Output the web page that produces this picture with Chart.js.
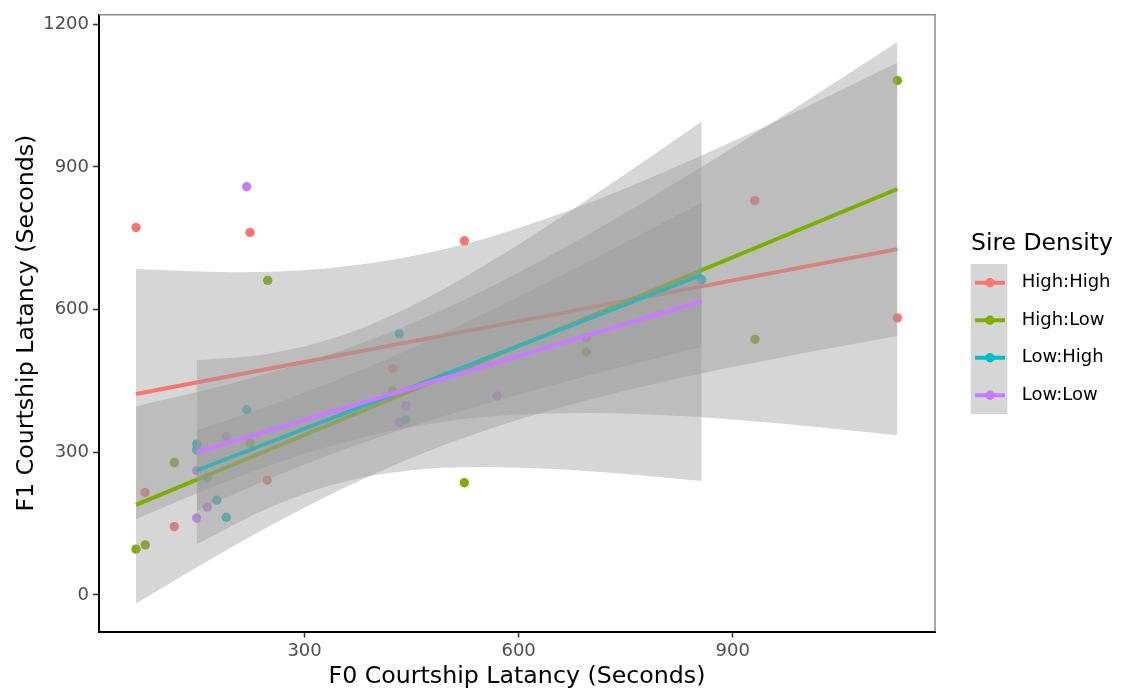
<!DOCTYPE html>
<html><head><meta charset="utf-8">
<script src="https://cdn.jsdelivr.net/npm/chart.js@4/dist/chart.umd.min.js"></script>
<style>html,body{margin:0;padding:0;background:#fff;} #wrap{width:1125px;height:691px;}</style>
</head><body><div id="wrap"><canvas id="c" width="1125" height="691"></canvas></div>
<script>
const groups = ['High:High', 'High:Low', 'Low:High', 'Low:Low'];
const colors = ['#F8766D', '#7CAE00', '#00BFC4', '#C77CFF'];
const xTicks = [300, 600, 900];
const yTicks = [0, 300, 600, 900, 1200];
const xMin = 11.9, xMax = 1183.6, yMin = -76.8, yMax = 1219.8;

// observed points
const hhX = [63.8, 223.6, 76.4, 117.4, 247.6, 423.5, 524.0, 695.4, 931.0, 1130.8];
const hhY = [772.5, 762.0, 215.6, 143.7, 241.4, 475.8, 744.6, 540.7, 829.0, 582.6];
const hlX = [63.8, 76.8, 117.4, 223.5, 248.3, 423.5, 523.9, 694.5, 931.3, 1130.8];
const hlY = [96.3, 105.3, 278.4, 319.6, 661.5, 429.0, 235.9, 510.8, 537.4, 1081.7];
const lhX = [148.8, 148.8, 163.7, 176.9, 190.3, 219.0, 432.8, 441.8, 856.6];
const lhY = [317.2, 304.6, 246.4, 199.5, 163.3, 389.4, 549.0, 368.4, 663.0];
const llX = [148.8, 148.8, 163.7, 190.9, 218.9, 432.8, 441.8, 569.7];
const llY = [261.7, 161.8, 184.8, 333.5, 858.3, 362.8, 397.7, 418.7];

// fitted lines (end points)
const hhFitX = [63.8, 1130.8], hhFitY = [422.4, 727.2];
const hlFitX = [63.8, 1130.8], hlFitY = [189.4, 853.6];
const lhFitX = [148.8, 856.6], lhFitY = [261.7, 673.0];
const llFitX = [148.8, 856.6], llFitY = [300.0, 617.5];

// confidence bands
const hhRibX = [63.8, 200, 330, 443, 560, 700, 850, 1000, 1130.8];
const hhLow  = [159.7, 243.9, 310.3, 351.5, 375.4, 382.8, 374.1, 355.8, 335.7];
const hhHigh = [685.1, 678.7, 686.5, 709.9, 752.8, 825.4, 919.9, 1023.8, 1118.9];
const hlRibX = [63.8, 200, 330, 443, 560, 700, 850, 1000, 1130.8];
const hlLow  = [-17.9, 102.5, 206.6, 284.0, 349.4, 410.8, 463.3, 508.6, 544.7];
const hlHigh = [396.7, 445.7, 503.4, 566.8, 647.0, 760.0, 894.1, 1035.6, 1162.7];
const lhRibX = [148.8, 250, 350, 450, 550, 650, 750, 856.6];
const lhLow  = [177.0, 243.7, 302.5, 354.1, 399.9, 441.8, 481.4, 521.5];
const lhHigh = [346.4, 397.3, 454.9, 519.5, 590.1, 664.4, 741.2, 824.5];
const llRibX = [148.8, 250, 350, 450, 550, 650, 750, 856.6];
const llLow  = [106.5, 183.5, 236.2, 262.4, 269.1, 264.6, 254.2, 239.5];
const llHigh = [493.5, 507.3, 544.4, 607.8, 690.9, 785.0, 885.2, 995.5];

const pts = (xs, ys) => xs.map((x, i) => ({x: x, y: ys[i]}));
const groupData = [
  {x: hhX, y: hhY, fx: hhFitX, fy: hhFitY, rx: hhRibX, lo: hhLow, hi: hhHigh},
  {x: hlX, y: hlY, fx: hlFitX, fy: hlFitY, rx: hlRibX, lo: hlLow, hi: hlHigh},
  {x: lhX, y: lhY, fx: lhFitX, fy: lhFitY, rx: lhRibX, lo: lhLow, hi: lhHigh},
  {x: llX, y: llY, fx: llFitX, fy: llFitY, rx: llRibX, lo: llLow, hi: llHigh}
];
const BAND = 'rgba(153,153,153,0.4)';
const datasets = [];
groupData.forEach((g, i) => {
  datasets.push({label: groups[i], data: pts(g.x, g.y), showLine: false, pointRadius: 4.7,
    pointBackgroundColor: colors[i], pointBorderWidth: 0, borderColor: 'rgba(0,0,0,0)', borderWidth: 0, order: 100});
});
groupData.forEach((g, i) => {
  const base = 50 - i * 10;
  datasets.push({label: groups[i] + ' band', data: pts(g.rx, g.hi), fill: '+1', backgroundColor: BAND,
    borderColor: 'rgba(0,0,0,0)', borderWidth: 0, pointRadius: 0, cubicInterpolationMode: 'monotone', order: base});
  datasets.push({label: groups[i] + ' band low', data: pts(g.rx, g.lo), fill: false,
    borderColor: 'rgba(0,0,0,0)', borderWidth: 0, pointRadius: 0, cubicInterpolationMode: 'monotone', order: base});
  datasets.push({label: groups[i] + ' fit', data: pts(g.fx, g.fy), fill: false, borderColor: colors[i],
    borderWidth: 4, borderCapStyle: 'butt', pointRadius: 0, order: base - 1});
});

const FONT = 'DejaVu Sans';
Chart.defaults.font.family = FONT;

const extras = {
  id: 'extras',
  afterDraw(chart) {
    const ctx = chart.ctx, a = chart.chartArea;
    ctx.save();
    ctx.strokeStyle = '#8c8c8c';
    ctx.lineWidth = 1.5;
    ctx.beginPath();
    ctx.moveTo(a.left, a.top); ctx.lineTo(a.right, a.top); ctx.lineTo(a.right, a.bottom);
    ctx.stroke();
    // legend
    ctx.fillStyle = '#000';
    ctx.font = '23.5px "' + FONT + '"';
    ctx.textBaseline = 'alphabetic';
    ctx.textAlign = 'left';
    ctx.fillText('Sire Density', 971, 250);
    const top = 264, kh = 37.5;
    ctx.fillStyle = '#D6D6D6';
    ctx.fillRect(970.7, top, 36.6, kh * groups.length);
    groups.forEach((gname, i) => {
      const cy = top + kh / 2 + i * kh;
      ctx.strokeStyle = colors[i];
      ctx.lineWidth = 4;
      ctx.beginPath(); ctx.moveTo(975, cy); ctx.lineTo(1005, cy); ctx.stroke();
      ctx.fillStyle = colors[i];
      ctx.beginPath(); ctx.arc(990, cy, 4.7, 0, Math.PI * 2); ctx.fill();
      ctx.fillStyle = '#000';
      ctx.font = '18px "' + FONT + '"';
      ctx.textBaseline = 'middle';
      ctx.fillText(gname, 1021.7, cy);
    });
    ctx.restore();
  }
};

new Chart(document.getElementById('c'), {
  type: 'line',
  data: {datasets: datasets},
  plugins: [extras],
  options: {
    responsive: false,
    animation: false,
    events: [],
    layout: {padding: {left: 0, right: 190, top: 12.5, bottom: 0}},
    plugins: {
      legend: {display: false},
      tooltip: {enabled: false},
      filler: {drawTime: 'beforeDatasetDraw'}
    },
    scales: {
      x: {
        type: 'linear', min: xMin, max: xMax,
        afterBuildTicks: s => { s.ticks = xTicks.map(v => ({value: v})); },
        afterFit: s => { s.height = 59.5; },
        ticks: {font: {family: FONT, size: 18}, color: '#4D4D4D', padding: 3, maxRotation: 0, autoSkip: false,
          callback: v => String(v)},
        grid: {drawOnChartArea: false, tickLength: 6, tickColor: '#333333', tickWidth: 1.5},
        border: {display: true, color: '#000000', width: 2},
        title: {display: true, text: 'F0 Courtship Latancy (Seconds)', font: {family: FONT, size: 23.7}, color: '#000',
          padding: {top: 0, bottom: 0}}
      },
      y: {
        type: 'linear', min: yMin, max: yMax,
        afterBuildTicks: s => { s.ticks = yTicks.map(v => ({value: v})); },
        afterFit: s => { s.width = 99; },
        ticks: {font: {family: FONT, size: 18}, color: '#4D4D4D', padding: 4, autoSkip: false,
          callback: v => String(v)},
        grid: {drawOnChartArea: false, tickLength: 6, tickColor: '#333333', tickWidth: 1.5},
        border: {display: true, color: '#000000', width: 2},
        title: {display: true, text: 'F1 Courtship Latancy (Seconds)', font: {family: FONT, size: 23.7}, color: '#000',
          padding: {top: 13, bottom: 0}}
      }
    }
  }
});
</script></body></html>
